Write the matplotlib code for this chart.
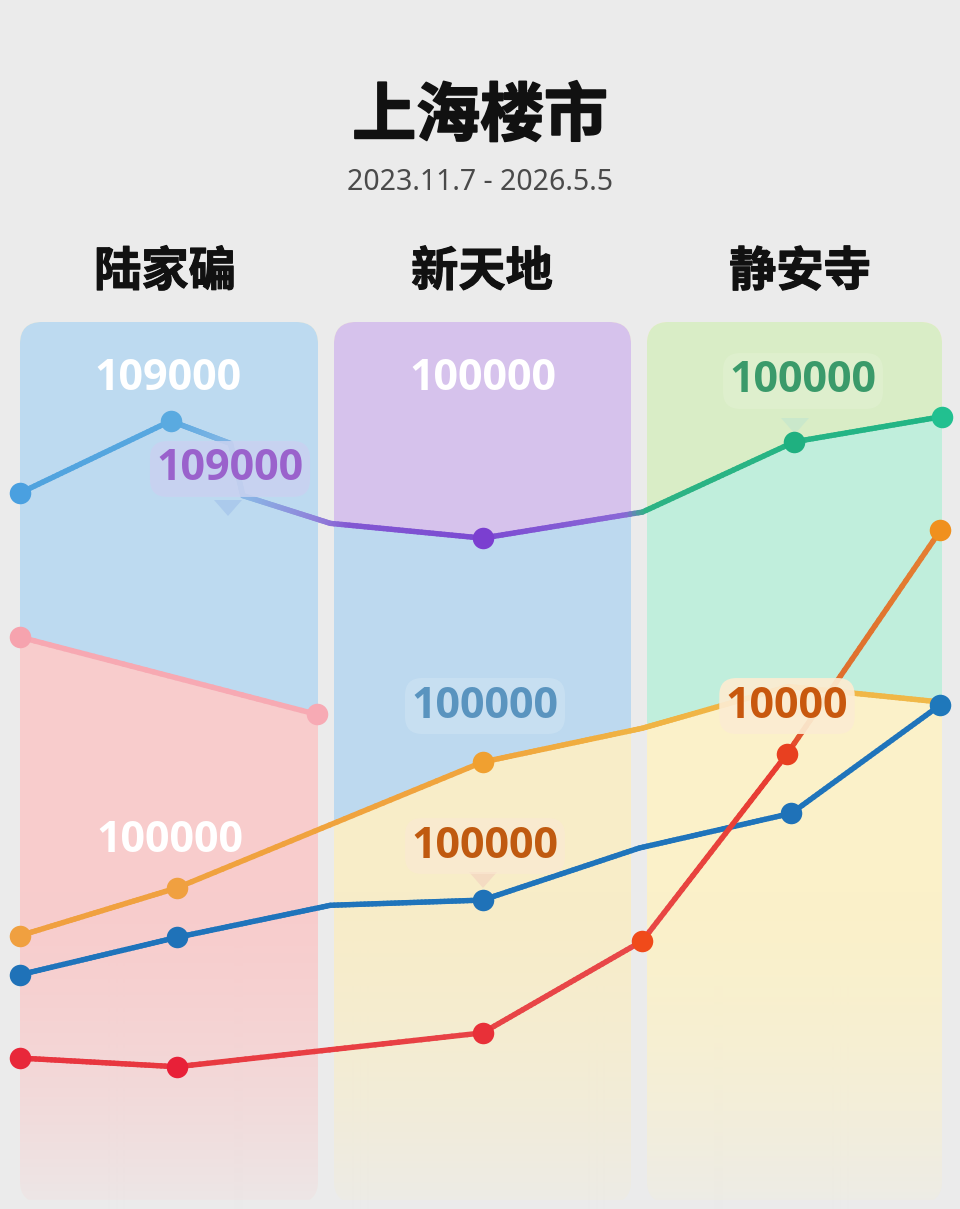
import numpy as np
import matplotlib
matplotlib.use('Agg')
import matplotlib.pyplot as plt
import matplotlib.patheffects as pe
from matplotlib.patches import FancyBboxPatch, Polygon
from matplotlib.collections import LineCollection
from matplotlib.colors import to_rgb

plt.rcParams['font.family'] = ['Noto Sans CJK SC', 'DejaVu Sans']

# ---------------- data ----------------
TITLE = '上海楼市'
SUBTITLE = '2023.11.7 - 2026.5.5'
DISTRICTS = ['陆家碥', '新天地', '静安寺']

# x: time position across the three districts (0 .. 6); y: price index
top_x = [0, 0.98, 1.37, 1.45, 2.02, 3.01, 4.05, 5.04, 6.0]
top_y = [80.3, 88.6, 86.0, 80.0, 76.8, 75.1, 78.1, 86.2, 89.1]
top_marks = [0, 1, 5, 7, 8]

pink_x = [0, 1.93]
pink_y = [63.7, 54.8]

orange_x = [0, 1.02, 3.01, 4.05, 5.0, 6.0]
orange_y = [29.3, 34.8, 49.3, 53.2, 58.0, 56.2]
orange_marks = [0, 1, 2]

navy_x = [0, 1.02, 2.02, 3.01, 4.03, 5.02, 5.99]
navy_y = [24.8, 29.1, 32.8, 33.4, 39.4, 43.4, 55.9]
navy_marks = [0, 1, 3, 5, 6]

red_x = [0, 1.02, 3.01, 4.05, 4.99, 5.99]
red_y = [15.2, 14.2, 18.1, 28.7, 50.2, 76.0]
red_marks = [0, 1, 2, 3, 4, 5]

LABELS = ['109000', '109000', '100000', '100000', '100000', '10000', '100000', '100000']

# ---------------- layout ----------------
W, H = 960, 1209
BG = '#ebebeb'
fig = plt.figure(figsize=(W / 100, H / 100), dpi=100, facecolor=BG)
ax = fig.add_axes([0, 0, 1, 1])
ax.set_facecolor(BG)
ax.axis('off')

PX0, PXU = 20.0, 153.67     # pixel of x=0, pixels per x unit
PY0, PYU = 1190.0, 8.68     # pixel of y=0, pixels per y unit
XL = (-PX0 / PXU, (W - PX0) / PXU)
YL = ((PY0 - H) / PYU, PY0 / PYU)
ax.set_xlim(*XL)
ax.set_ylim(*YL)


def fx(px):
    return px / W


def fy(py):
    return 1 - py / H


def dx(px):
    return (px - PX0) / PXU


# panels
panels_px = [(20, 318), (334, 631), (647, 942)]
PTOP, PBOT, RAD = 322, 1203, 22
panel_patches = []
for (a, b) in panels_px:
    p = FancyBboxPatch((fx(a), fy(PBOT)), fx(b) - fx(a), fy(PTOP) - fy(PBOT),
                       boxstyle=f'round,pad=0,rounding_size={RAD / W}',
                       mutation_aspect=W / H, transform=ax.transAxes,
                       facecolor='#f8edc9', edgecolor='none', zorder=0.5)
    ax.add_patch(p)
    panel_patches.append(p)

ybot, ytop = YL


def fill(patch, xa, xb, lower, upper, color):
    xs = np.linspace(dx(xa) - 0.05, dx(xb) + 0.05, 300)
    lo = np.interp(xs, *lower) if lower is not None else np.full_like(xs, ybot)
    hi = np.interp(xs, *upper) if upper is not None else np.full_like(xs, ytop)
    f = ax.fill_between(xs, lo, hi, color=color, linewidth=0, zorder=1)
    f.set_clip_path(patch)


TOP = (top_x, top_y)
PINK = (pink_x, pink_y)
ORG = (orange_x, orange_y)
# panel 1
fill(panel_patches[0], 20, 318, PINK, None, '#bddaf0')
fill(panel_patches[0], 20, 318, None, PINK, '#f8cccc')
# panel 2
fill(panel_patches[1], 334, 631, TOP, None, '#d6c2ec')
fill(panel_patches[1], 334, 631, ORG, TOP, '#bdd9ef')
fill(panel_patches[1], 334, 631, None, ORG, '#f8edc8')
# panel 3
fill(panel_patches[2], 647, 942, TOP, None, '#d9edc6')
fill(panel_patches[2], 647, 942, ORG, TOP, '#c0eedc')
fill(panel_patches[2], 647, 942, None, ORG, '#fbf1c9')

# bottom fade overlay
rows = np.arange(H)
alpha = np.clip((rows - 880) / (1200 - 880), 0, 1) ** 1.6 * 0.85
alpha[rows >= 1200] = 1.0
img = np.zeros((H, 2, 4))
img[:, :, :3] = to_rgb(BG)
img[:, :, 3] = alpha[:, None]
ax.imshow(img, extent=(*XL, ybot, ytop), origin='upper',
          aspect='auto', zorder=1.5, interpolation='bilinear')
ax.set_xlim(*XL)
ax.set_ylim(*YL)


def grad_line(x, y, stops, lw=3.9, z=3):
    xs, ys = [], []
    for i in range(len(x) - 1):
        t = np.linspace(0, 1, 40, endpoint=False)
        xs.append(x[i] + (x[i + 1] - x[i]) * t)
        ys.append(y[i] + (y[i + 1] - y[i]) * t)
    xs.append([x[-1]])
    ys.append([y[-1]])
    pts = np.column_stack([np.concatenate(xs), np.concatenate(ys)])
    segs = np.stack([pts[:-1], pts[1:]], axis=1)
    mid = (pts[:-1, 0] + pts[1:, 0]) / 2
    sx = [s[0] for s in stops]
    cols = np.array([to_rgb(s[1]) for s in stops])
    c = np.column_stack([np.interp(mid, sx, cols[:, k]) for k in range(3)])
    lc = LineCollection(segs, colors=c, linewidths=lw, capstyle='round',
                        joinstyle='round', zorder=z)
    ax.add_collection(lc)


def markers(x, y, idx, colors, z=4, ms=15.5):
    for i, c in zip(idx, colors):
        ax.plot([x[i]], [y[i]], 'o', ms=ms, color=c, mec='none', zorder=z)


grad_line(pink_x, pink_y, [(0, '#f7a8b2'), (2, '#f7aab3')])
markers(pink_x, pink_y, [0, 1], ['#f6a3ae', '#f7aab4'])

grad_line(top_x, top_y, [(0, '#4fa2de'), (0.98, '#58a8e0'), (1.3, '#7cb4e4'),
                         (1.5, '#8ab5e5'), (2.0, '#8f78d8'), (2.15, '#8258d2'),
                         (3.0, '#7b4ad2'), (3.95, '#8a68d6'), (4.08, '#2db384'),
                         (6, '#20b585')])
markers(top_x, top_y, top_marks, ['#4aa0e0', '#5aaae0', '#7b3fd0', '#1fb080', '#22c090'])

grad_line(orange_x, orange_y, [(0, '#f0a040'), (3, '#f0a43c'), (4.1, '#f0b444'), (6, '#f0b848')])
markers(orange_x, orange_y, orange_marks, ['#f0a040', '#f0a040', '#f0a030'])

grad_line(navy_x, navy_y, [(0, '#1f74bb'), (6, '#1f74bb')])
markers(navy_x, navy_y, navy_marks, ['#1f72b8', '#1f72b8', '#1f72b8', '#1f72b8', '#1f78bb'])

grad_line(red_x, red_y, [(0, '#e8343e'), (4.0, '#e84848'), (4.99, '#e83c30'),
                         (5.15, '#dd6a2c'), (6, '#e58032')])
markers(red_x, red_y, red_marks, ['#e8283a', '#e82038', '#e83038', '#f04a1a', '#e84020', '#f0901e'])

# ---------------- texts ----------------
fig.text(0.5, fy(117), TITLE, ha='center', va='center', fontsize=46,
         fontweight='black', color='#111111',
         path_effects=[pe.withStroke(linewidth=1.3, foreground='#111111')])
fig.text(0.5, fy(183), SUBTITLE, ha='center', va='center', fontsize=20.5,
         color='#4a4a4a', family=['Noto Sans', 'DejaVu Sans'])
for name, cx in zip(DISTRICTS, [165, 482, 800]):
    fig.text(fx(cx), fy(272), name, ha='center', va='center', fontsize=34,
             fontweight='bold', color='#111111',
             path_effects=[pe.withStroke(linewidth=0.8, foreground='#111111')])

# value labels: (text index, px, py, color, box color or None, box alpha)
label_layout = [
    (0, 168, 379, '#ffffff', None, 0),
    (1, 230, 469, '#9a62cc', '#c9d2f0', 0.88),
    (2, 483, 379, '#ffffff', None, 0),
    (3, 803, 381, '#3a9a6a', '#e2f1d2', 0.6),
    (4, 485, 706, '#5a94bf', '#cfe4f3', 0.6),
    (5, 787, 706, '#c8580e', '#fcecd2', 0.92),
    (6, 170, 841, '#ffffff', None, 0),
    (7, 485, 846, '#c05a10', '#fbe9d4', 0.6),
]
for i, px, py, col, box, ba in label_layout:
    kw = {}
    if box:
        kw['bbox'] = dict(boxstyle='round,pad=0.15,rounding_size=0.4', fc=box,
                          ec='none', alpha=ba)
    fig.text(fx(px), fy(py), LABELS[i], ha='center', va='center', fontsize=31,
             fontweight='bold', color=col, family=['Open Sans', 'DejaVu Sans'],
             zorder=6, **kw)

# label pointers
for px, py, col in [(228, 500, '#a9c9ec'), (795, 418, '#c9e8cc'), (483, 872, '#f4d9c2')]:
    tri = Polygon([(fx(px - 14), fy(py)), (fx(px + 14), fy(py)), (fx(px), fy(py + 16))],
                  closed=True, transform=fig.transFigure, fc=col, ec='none',
                  alpha=0.9, zorder=2.5)
    ax.add_patch(tri)

fig.savefig('out.png', dpi=100, facecolor=BG)
